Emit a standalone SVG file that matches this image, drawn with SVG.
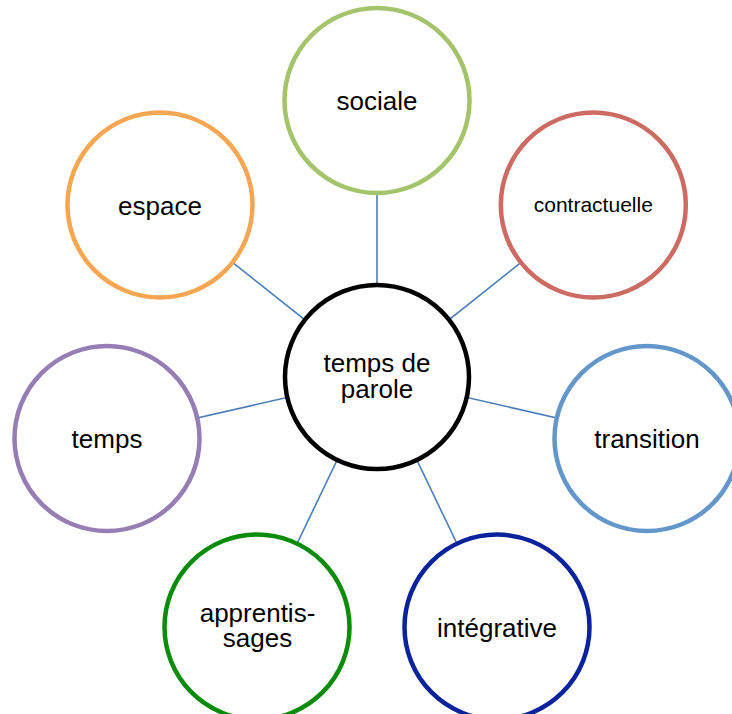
<svg xmlns="http://www.w3.org/2000/svg" width="732" height="714" viewBox="0 0 732 714">
<style>
.n{fill:#ffffff;stroke-width:4.5}
.t{font-family:"Liberation Sans",Arial,sans-serif;font-size:26px;fill:#000;text-anchor:middle}
.c{stroke:#4a7ebb;stroke-width:1.6;fill:none}
</style>
<rect width="732" height="714" fill="#ffffff"/>
<g id="connectors">
<line class="c" x1="377" y1="377" x2="377" y2="100.5"/>
<line class="c" x1="377" y1="377" x2="593.3" y2="205"/>
<line class="c" x1="377" y1="377" x2="647" y2="438.5"/>
<line class="c" x1="377" y1="377" x2="497" y2="627"/>
<line class="c" x1="377" y1="377" x2="257" y2="627"/>
<line class="c" x1="377" y1="377" x2="107" y2="438.5"/>
<line class="c" x1="377" y1="377" x2="160" y2="205"/>
</g>
<g id="center">
<circle class="n" cx="377" cy="377" r="92" stroke="#000000" stroke-width="3.8"/>
<text class="t" x="377" y="371.5">temps de</text>
<text class="t" x="377" y="398">parole</text>
</g>
<g id="sociale">
<circle class="n" cx="377" cy="100.5" r="92.5" stroke="#a3c46b"/>
<text class="t" x="377" y="110">sociale</text>
</g>
<g id="contractuelle">
<circle class="n" cx="593.3" cy="205" r="92.5" stroke="#cd6a62"/>
<text class="t" x="593.3" y="211.5" style="font-size:21px">contractuelle</text>
</g>
<g id="transition">
<circle class="n" cx="647" cy="438.5" r="92.5" stroke="#6397cb"/>
<text class="t" x="647" y="448">transition</text>
</g>
<g id="integrative">
<circle class="n" cx="497" cy="627" r="92.5" stroke="#0a229c"/>
<text class="t" x="497" y="636.5">intégrative</text>
</g>
<g id="apprentissages">
<circle class="n" cx="257" cy="627" r="92.5" stroke="#0a8c0a"/>
<text class="t" x="257.5" y="621.5">apprentis-</text>
<text class="t" x="257.5" y="647">sages</text>
</g>
<g id="temps">
<circle class="n" cx="107" cy="438.5" r="92.5" stroke="#967db3"/>
<text class="t" x="107" y="448">temps</text>
</g>
<g id="espace">
<circle class="n" cx="160" cy="205" r="92.5" stroke="#f9a652"/>
<text class="t" x="160" y="214.5">espace</text>
</g>
</svg>
